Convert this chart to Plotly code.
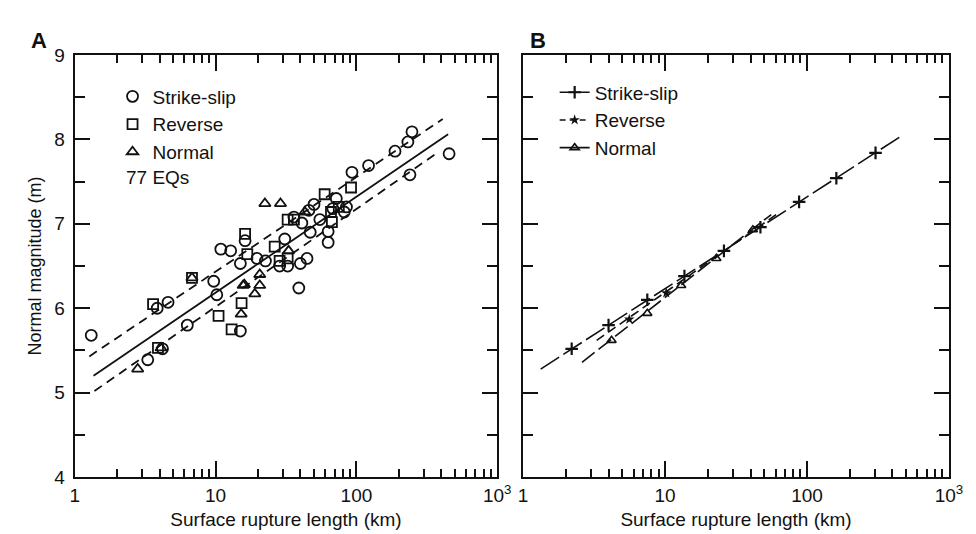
import plotly.graph_objects as go

# ---------------- Panel A data (rupture length km, magnitude) ----------------
ss_len = [1.31, 4.6, 3.85, 9.7, 10.2, 6.3, 4.2, 3.3, 15, 15, 72, 50, 46, 68, 82, 41, 47, 63, 63,
          16.2, 10.9, 12.8, 19.7, 22.6, 31, 28.5, 32.5, 40, 44.6, 39, 248, 232, 188, 122, 93,
          455, 240, 85, 55, 36]
ss_mag = [5.68, 6.07, 6.0, 6.32, 6.16, 5.8, 5.52, 5.39, 5.73, 6.53, 7.3, 7.23, 7.16, 7.18, 7.14,
          7.01, 6.9, 6.91, 6.78, 6.8, 6.7, 6.68, 6.59, 6.56, 6.82, 6.5, 6.5, 6.53, 6.59, 6.24,
          8.09, 7.97, 7.86, 7.69, 7.61, 7.83, 7.58, 7.2, 7.05, 7.08]

rev_len = [3.6, 3.9, 10.5, 13, 15.3, 59.5, 91.6, 66, 67, 32.5, 36, 16.2, 16.8, 26.3, 28.5, 32.5, 75, 6.8]
rev_mag = [6.05, 5.53, 5.91, 5.75, 6.06, 7.35, 7.43, 7.14, 7.02, 7.05, 7.05, 6.88, 6.64, 6.73,
           6.56, 6.59, 7.2, 6.36]

nor_len = [22.4, 28.9, 6.8, 16, 15.2, 2.8, 43, 33, 20.6, 20.6, 19, 15.7, 4.1]
nor_mag = [7.24, 7.24, 6.36, 6.28, 5.93, 5.28, 7.14, 6.68, 6.4, 6.27, 6.17, 6.27, 5.53]

# regression line and confidence limits (end points)
fit_mid_x = [1.36, 448]
fit_mid_y = [5.2, 8.06]
fit_hi_x = [1.27, 410]
fit_hi_y = [5.43, 8.24]
fit_lo_x = [1.38, 360]
fit_lo_y = [5.02, 7.82]

# ---------------- Panel B data ----------------
b_ss_line_x = [1.33, 452]
b_ss_line_y = [5.28, 8.03]
b_ss_mk_x = [2.2, 4.0, 7.5, 13.7, 26, 47, 88, 161, 304]
b_ss_mk_y = [5.52, 5.80, 6.10, 6.38, 6.68, 6.96, 7.26, 7.54, 7.84]

b_rev_line_x = [3.3, 62]
b_rev_line_y = [5.62, 7.12]
b_rev_mk_x = [5.6, 10.2]
b_rev_mk_y = [5.87, 6.18]

b_nor_line_x = [2.6, 56]
b_nor_line_y = [5.36, 7.11]
b_nor_mk_x = [4.2, 7.5, 13, 23, 41.6]
b_nor_mk_y = [5.62, 5.94, 6.27, 6.59, 6.93]

x_tickvals = [1, 10, 100, 1000]
x_ticktext = ["1", "10", "100", "10<sup>3</sup>"]
y_tickvals = [4, 5, 6, 7, 8, 9]

FONT = "Liberation Sans, Arial, sans-serif"
BLACK = "#111111"

fig = go.Figure()

# Panel A scatter
fig.add_trace(go.Scatter(x=ss_len, y=ss_mag, mode="markers", name="Strike-slip",
                         marker=dict(symbol="circle-open", size=11, color=BLACK, line=dict(width=1.8, color=BLACK)),
                         xaxis="x", yaxis="y", legend="legend"))
fig.add_trace(go.Scatter(x=rev_len, y=rev_mag, mode="markers", name="Reverse",
                         marker=dict(symbol="square-open", size=10, color=BLACK, line=dict(width=1.8, color=BLACK)),
                         xaxis="x", yaxis="y", legend="legend"))
fig.add_trace(go.Scatter(x=nor_len, y=nor_mag, mode="markers", name="Normal",
                         marker=dict(symbol="triangle-up-open", size=10, color=BLACK, line=dict(width=1.8, color=BLACK)),
                         xaxis="x", yaxis="y", legend="legend"))
fig.add_trace(go.Scatter(x=fit_mid_x, y=fit_mid_y, mode="lines", showlegend=False,
                         line=dict(color=BLACK, width=1.8), xaxis="x", yaxis="y"))
fig.add_trace(go.Scatter(x=fit_hi_x, y=fit_hi_y, mode="lines", showlegend=False,
                         line=dict(color=BLACK, width=1.8, dash="9px,6px"), xaxis="x", yaxis="y"))
fig.add_trace(go.Scatter(x=fit_lo_x, y=fit_lo_y, mode="lines", showlegend=False,
                         line=dict(color=BLACK, width=1.8, dash="9px,6px"), xaxis="x", yaxis="y"))

# Panel B lines and markers
fig.add_trace(go.Scatter(x=b_ss_line_x, y=b_ss_line_y, mode="lines", showlegend=False,
                         line=dict(color=BLACK, width=1.6, dash="22px,5px"), xaxis="x2", yaxis="y2"))
fig.add_trace(go.Scatter(x=b_ss_mk_x, y=b_ss_mk_y, mode="markers", showlegend=False,
                         marker=dict(symbol="cross-thin-open", size=9, color=BLACK, line=dict(width=2.2, color=BLACK)),
                         xaxis="x2", yaxis="y2"))
fig.add_trace(go.Scatter(x=b_rev_line_x, y=b_rev_line_y, mode="lines", showlegend=False,
                         line=dict(color=BLACK, width=1.6, dash="9px,5px"), xaxis="x2", yaxis="y2"))
fig.add_trace(go.Scatter(x=b_rev_mk_x, y=b_rev_mk_y, mode="markers", showlegend=False,
                         marker=dict(symbol="star", size=8, color=BLACK),
                         xaxis="x2", yaxis="y2"))
fig.add_trace(go.Scatter(x=b_nor_line_x, y=b_nor_line_y, mode="lines", showlegend=False,
                         line=dict(color=BLACK, width=1.6, dash="16px,5px"), xaxis="x2", yaxis="y2"))
fig.add_trace(go.Scatter(x=b_nor_mk_x, y=b_nor_mk_y, mode="markers", showlegend=False,
                         marker=dict(symbol="triangle-up-open", size=8, color=BLACK, line=dict(width=1.6, color=BLACK)),
                         xaxis="x2", yaxis="y2"))

# legend-only entries for panel B
fig.add_trace(go.Scatter(x=[None], y=[None], mode="lines+markers", name="Strike-slip",
                         line=dict(color=BLACK, width=1.6),
                         marker=dict(symbol="cross-thin-open", size=9, line=dict(width=2.2, color=BLACK), color=BLACK),
                         xaxis="x2", yaxis="y2", legend="legend2"))
fig.add_trace(go.Scatter(x=[None], y=[None], mode="lines+markers", name="Reverse",
                         line=dict(color=BLACK, width=1.6, dash="6px,4px"),
                         marker=dict(symbol="star", size=8, color=BLACK),
                         xaxis="x2", yaxis="y2", legend="legend2"))
fig.add_trace(go.Scatter(x=[None], y=[None], mode="lines+markers", name="Normal",
                         line=dict(color=BLACK, width=1.6),
                         marker=dict(symbol="triangle-up-open", size=8, line=dict(width=1.6, color=BLACK), color=BLACK),
                         xaxis="x2", yaxis="y2", legend="legend2"))

minor_x = [2, 3, 4, 5, 6, 7, 8, 9, 20, 30, 40, 50, 60, 70, 80, 90, 200, 300, 400, 500, 600, 700, 800, 900]

def xaxis_cfg(domain, anchor):
    return dict(type="log", range=[0, 3], domain=domain, anchor=anchor,
                tickvals=x_tickvals, ticktext=x_ticktext, ticks="inside", ticklen=16, tickwidth=2,
                tickcolor=BLACK, showline=True, linecolor=BLACK, linewidth=2, mirror="ticks",
                showgrid=False, zeroline=False,
                minor=dict(tickvals=minor_x, ticks="inside", ticklen=8, tickwidth=1.6, tickcolor=BLACK, showgrid=False),
                tickfont=dict(family=FONT, size=19, color=BLACK),
                title=dict(text="Surface rupture length (km)", font=dict(family=FONT, size=19, color=BLACK), standoff=8))

def yaxis_cfg(anchor, labels):
    return dict(range=[4, 9], domain=[0.105, 0.928], anchor=anchor,
                tickvals=y_tickvals, ticks="inside", ticklen=15, tickwidth=2, tickcolor=BLACK,
                showline=True, linecolor=BLACK, linewidth=2, mirror="ticks", showgrid=False, zeroline=False,
                showticklabels=labels, ticklabelstandoff=4,
                minor=dict(dtick=0.5, ticks="inside", ticklen=10, tickwidth=1.6, tickcolor=BLACK, showgrid=False),
                tickfont=dict(family=FONT, size=19, color=BLACK))

ya = yaxis_cfg("x", True)
ya["title"] = dict(text="Normal magnitude (m)", font=dict(family=FONT, size=18, color=BLACK), standoff=8)

fig.update_layout(
    width=976, height=534,
    margin=dict(l=0, r=0, t=0, b=0),
    paper_bgcolor="white", plot_bgcolor="white",
    font=dict(family=FONT, color=BLACK),
    xaxis=xaxis_cfg([0.0645, 0.506], "y"),
    yaxis=ya,
    xaxis2=xaxis_cfg([0.533, 0.978], "y2"),
    yaxis2=yaxis_cfg("x2", False),
    legend=dict(x=0.104, y=0.884, xanchor="left", yanchor="top", bgcolor="rgba(0,0,0,0)",
                font=dict(family=FONT, size=19, color=BLACK), itemwidth=30, tracegroupgap=0),
    legend2=dict(x=0.566, y=0.892, xanchor="left", yanchor="top", bgcolor="rgba(0,0,0,0)",
                 font=dict(family=FONT, size=19, color=BLACK), itemwidth=30, tracegroupgap=0),
    annotations=[
        dict(text="77 EQs", x=0.1158, y=1 - 166 / 534, xref="paper", yref="paper", xanchor="left",
             yanchor="middle", showarrow=False, font=dict(family=FONT, size=19, color=BLACK)),
        dict(text="<b>A</b>", x=27 / 976, y=1 - 23 / 534, xref="paper", yref="paper", xanchor="center",
             yanchor="middle", showarrow=False, font=dict(family=FONT, size=22, color=BLACK)),
        dict(text="<b>B</b>", x=535 / 976, y=1 - 23 / 534, xref="paper", yref="paper", xanchor="center",
             yanchor="middle", showarrow=False, font=dict(family=FONT, size=22, color=BLACK)),
    ],
    showlegend=True,
)

fig.write_html("out.html")
